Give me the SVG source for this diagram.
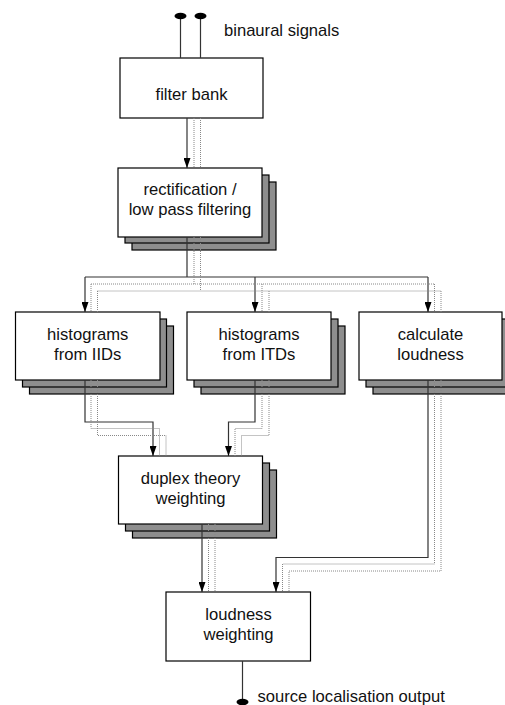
<svg xmlns="http://www.w3.org/2000/svg" width="505" height="705" viewBox="0 0 505 705">
<style>
.box{fill:#fff;stroke:#000;stroke-width:1.2}
.sh{fill:#8e8e8e;stroke:#000;stroke-width:1.2}
.t{font-family:"Liberation Sans",Arial,sans-serif;font-size:16.6px;fill:#111}
.c{text-anchor:middle}
.s{fill:none;stroke:#333;stroke-width:1.2}
.d{fill:none;stroke:#888;stroke-width:1;stroke-dasharray:1 1}
</style>
<defs>
<marker id="arr" viewBox="0 0 10 7" refX="10" refY="3.5" markerWidth="10" markerHeight="7" markerUnits="userSpaceOnUse" orient="auto">
<path d="M0,0 L10,3.5 L0,7 Z" fill="#000"/>
</marker>
</defs>
<rect width="505" height="705" fill="#fff"/>

<g id="filterbank">
<rect class="box" x="120" y="58" width="143" height="60"/>
<text class="t c" x="191.5" y="100">filter bank</text>
</g>

<g id="rectification">
<rect class="sh" x="132" y="182" width="144" height="68"/>
<rect class="sh" x="125" y="175" width="144" height="68"/>
<rect class="box" x="118" y="168" width="144" height="69"/>
<text class="t c" x="190" y="195">rectification /</text>
<text class="t c" x="190" y="215">low pass filtering</text>
</g>

<g id="iids">
<rect class="sh" x="29.5" y="326" width="144" height="68"/>
<rect class="sh" x="22.5" y="319" width="144" height="68"/>
<rect class="box" x="15.5" y="312" width="144.5" height="68"/>
<text class="t c" x="87.7" y="340">histograms</text>
<text class="t c" x="87.7" y="360">from IIDs</text>
</g>

<g id="itds">
<rect class="sh" x="201" y="326" width="144" height="68"/>
<rect class="sh" x="194" y="319" width="144" height="68"/>
<rect class="box" x="187" y="312" width="144" height="68"/>
<text class="t c" x="259" y="340">histograms</text>
<text class="t c" x="259" y="360">from ITDs</text>
</g>

<g id="calcloudness">
<rect class="sh" x="373" y="326" width="143" height="68"/>
<rect class="sh" x="366" y="319" width="143" height="68"/>
<rect class="box" x="359" y="312" width="143" height="68"/>
<text class="t c" x="430.5" y="340">calculate</text>
<text class="t c" x="430.5" y="360">loudness</text>
</g>

<g id="duplex">
<rect class="sh" x="132.5" y="470" width="144" height="68"/>
<rect class="sh" x="125.5" y="463" width="144" height="68"/>
<rect class="box" x="118.5" y="456" width="144" height="68"/>
<text class="t c" x="190.5" y="483.5">duplex theory</text>
<text class="t c" x="190.5" y="503.5">weighting</text>
</g>

<g id="loudnessweighting">
<rect class="box" x="166" y="592" width="144.5" height="69"/>
<text class="t c" x="238.5" y="619.5">loudness</text>
<text class="t c" x="238.5" y="640">weighting</text>
</g>

<g id="labels">
<text class="t" x="224" y="36">binaural signals</text>
<text class="t" x="257.5" y="702">source localisation output</text>
</g>

<g id="connectors">
<path class="s" d="M180.5,16 V58 M200.5,16 V58"/>
<ellipse cx="180.5" cy="16" rx="6" ry="3.3" fill="#000"/>
<ellipse cx="200.5" cy="16" rx="6" ry="3.3" fill="#000"/>

<path class="s" d="M187,118 V168" marker-end="url(#arr)"/>
<path class="d" d="M194,118 V168 M200.5,118 V168"/>

<path class="s" d="M187,237 V277 M85,277 H428"/>
<path class="s" d="M85,277 V312" marker-end="url(#arr)"/>
<path class="s" d="M255,277 V312" marker-end="url(#arr)"/>
<path class="s" d="M428,277 V312" marker-end="url(#arr)"/>
<path class="d" d="M194,237 V284 M91,284 H434.5 M91,284 V312 M262,284 V312 M434.5,284 V312"/>
<path class="d" d="M200.5,237 V291 M97.5,291 H441 M97.5,291 V312 M269,291 V312 M441,291 V312"/>

<path class="s" d="M85,380 V422 H153 V456" marker-end="url(#arr)"/>
<path class="d" d="M91,380 V428.5 H159.5 V456 M97.5,380 V435.5 H166 V456"/>

<path class="s" d="M255,380 V422 H228.5 V456" marker-end="url(#arr)"/>
<path class="d" d="M262,380 V428.5 H235 V456 M269,380 V435.5 H241.5 V456"/>

<path class="s" d="M202,524 V592" marker-end="url(#arr)"/>
<path class="d" d="M208.5,524 V592 M215,524 V592"/>

<path class="s" d="M428,380 V557.5 H276 V592" marker-end="url(#arr)"/>
<path class="d" d="M434.5,380 V564 H282.5 V592 M441,380 V571 H289 V592"/>

<path class="s" d="M242.5,661 V702"/>
<ellipse cx="242.5" cy="702" rx="6" ry="3.3" fill="#000"/>
</g>
</svg>
